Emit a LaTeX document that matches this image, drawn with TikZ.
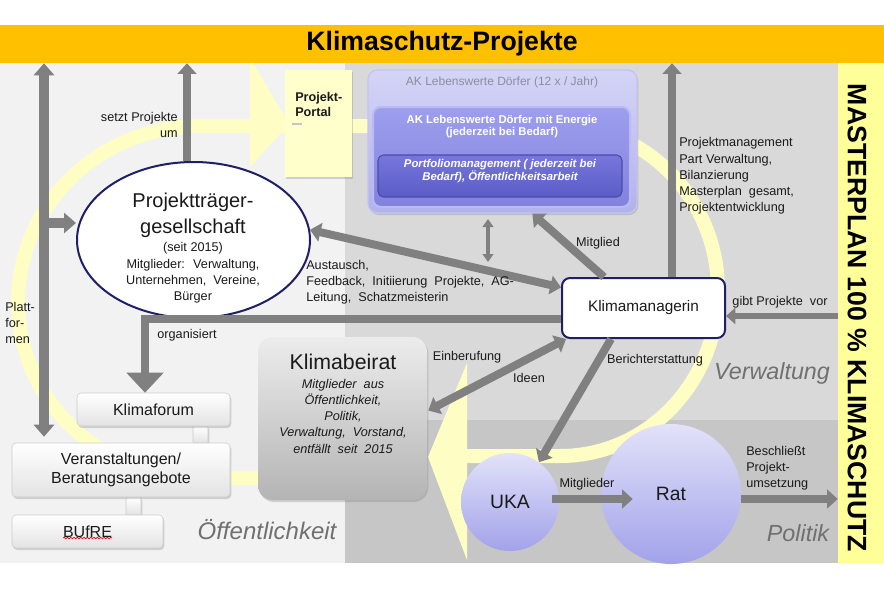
\documentclass[tikz,border=0pt]{standalone}
\usepackage{fontspec}
\setmainfont{Liberation Sans}
\usetikzlibrary{arrows.meta,shapes.geometric,shadows,calc,decorations.pathmorphing}
\definecolor{banner}{HTML}{FFC000}
\definecolor{bgl}{HTML}{F2F2F2}
\definecolor{bgm}{HTML}{D9D9D9}
\definecolor{bgd}{HTML}{C6C6C6}
\definecolor{stripc}{HTML}{FFFF99}
\definecolor{bandc}{HTML}{FEFEC4}
\definecolor{portalc}{HTML}{FFFFCC}
\definecolor{agray}{HTML}{808080}
\definecolor{navy}{HTML}{1F1F66}
\definecolor{txt}{HTML}{1A1A1A}
\definecolor{regc}{HTML}{707070}
\definecolor{akt}{HTML}{D4D4F6}
\definecolor{akb}{HTML}{B2B2EC}
\definecolor{akline}{HTML}{C4C4F2}
\definecolor{aktxt}{HTML}{8C8CA0}
\definecolor{midt}{HTML}{9E9EEE}
\definecolor{midb}{HTML}{8282DE}
\definecolor{midline}{HTML}{BABAF4}
\definecolor{int}{HTML}{7676DC}
\definecolor{inb}{HTML}{5C5CC8}
\definecolor{inline}{HTML}{4C4CA8}
\definecolor{kbt}{HTML}{ECECEC}
\definecolor{kbb}{HTML}{B4B4B4}
\definecolor{ukat}{HTML}{E2E2FA}
\definecolor{ukab}{HTML}{A2A2EA}
\begin{document}
\begin{tikzpicture}[x=0.75pt,y=-0.75pt,
  sh/.style={drop shadow={opacity=0.3,shadow xshift=1pt,shadow yshift=-1.5pt}},
  lbl/.style={font=\fontsize{9.5}{12.2}\selectfont, text=txt, inner sep=0},
  reglbl/.style={font=\fontsize{17.5}{20}\selectfont\itshape, text=regc, inner sep=0},
  wbox/.style={rounded corners=3pt, draw=gray!40, top color=white, bottom color=gray!22, sh, inner sep=0, text=txt, font=\fontsize{12}{14.25}\selectfont},
  garr/.style={draw=agray, line width=6pt, -{Triangle[width=14pt,length=8pt]}},
  gdarr/.style={draw=agray, line width=6pt, {Triangle[width=14pt,length=8pt]}-{Triangle[width=14pt,length=8pt]}},
  thindarr/.style={draw=agray, line width=2.5pt, {Triangle[width=8pt,length=6pt]}-{Triangle[width=8pt,length=6pt]}},
  gbig/.style={draw=agray, line width=6pt, -{Triangle[width=27pt,length=15pt]}}
]
\path[use as bounding box] (0,0) rectangle (884,590);
\fill[white] (0,0) rectangle (884,590);
\fill[bgl] (0,63) rectangle (345,563);
\fill[bgm] (345,63) rectangle (838,420);
\fill[bgd] (345,420) rectangle (838,563);

% pale circular arrows
\draw[bandc, line width=10.5pt] (300,478) -- (200,478) arc[start angle=90,end angle=270,x radius=182,y radius=176] -- (560,126) arc[start angle=270,end angle=450,x radius=158,y radius=165] -- (467,456);
\fill[bandc] (250,63) -- (253,63) -- (289,124) -- (250,167) -- cycle;
\fill[bandc] (467,363) -- (428,457) -- (467,560) -- cycle;

% banner and right strip
\node[fill=banner, minimum width=663pt, minimum height=28.5pt, inner sep=0, font=\fontsize{20}{24}\selectfont\bfseries] (banner) at (442,44) {Klimaschutz-Projekte};
\node[fill=stripc, minimum width=34.5pt, minimum height=375pt, inner sep=0] (strip) at (861,313) {};
\node[rotate=-90, font=\fontsize{20}{24}\selectfont\bfseries, inner sep=0] (striptxt) at (857,318) {MASTERPLAN 100 \% KLIMASCHUTZ};

% Projekt-Portal
\node[fill=portalc, minimum width=50.25pt, minimum height=80.25pt, inner sep=0, sh] (portal) at (318.5,123.5) {};
\node[anchor=north west, align=left, font=\fontsize{9.5}{11}\selectfont\bfseries, text=txt, inner sep=0] (portaltxt) at (295,92) {Projekt-\\Portal};
\draw[gray!45, line width=1pt] (292,124) -- (302,124);

% AK boxes
\node[rounded corners=7pt, top color=akt, bottom color=akb, draw=akline, line width=1pt, minimum width=201.75pt, minimum height=107.25pt, inner sep=0, sh] (ak) at (502.5,141.5) {};
\node[font=\fontsize{9}{11}\selectfont, text=aktxt, inner sep=0] (aktitle) at (502,82) {AK Lebenswerte Dörfer (12 x / Jahr)};
\node[rounded corners=6pt, top color=midt, bottom color=midb, draw=midline, line width=1.5pt, minimum width=192.75pt, minimum height=75pt, inner sep=0] (akmid) at (501.5,157) {};
\node[font=\fontsize{8.5}{9}\selectfont\bfseries, text=white, align=center, inner sep=0] (akmidtxt) at (502,127) {AK Lebenswerte Dörfer mit Energie\\(jederzeit bei Bedarf)};
\node[rounded corners=4pt, top color=int, bottom color=inb, draw=inline, line width=0.8pt, minimum width=183pt, minimum height=31.5pt, inner sep=0] (akin) at (500,176) {};
\node[font=\fontsize{8.5}{9}\selectfont\bfseries\itshape, text=white, align=center, inner sep=0] (akintxt) at (500,171) {Portfoliomanagement ( jederzeit bei\\Bedarf), Öffentlichkeitsarbeit};

% Projekttraegergesellschaft
\node[ellipse, draw=navy, line width=1.5pt, fill=white, minimum width=174.75pt, minimum height=117pt, inner sep=0] (ptg) at (193.5,240) {};
\node[font=\fontsize{15}{19.5}\selectfont, text=txt, align=center, inner sep=0] (ptgA) at (193,215) {Projektträger-\\gesellschaft};
\node[lbl, align=center] (ptgB) at (193,273) {(seit 2015)\\Mitglieder:~ Verwaltung,\\Unternehmen,~ Vereine,\\Bürger};

% Klimamanagerin
\node[draw=navy, line width=1.5pt, fill=white, rounded corners=6pt, minimum width=122.25pt, minimum height=45pt, inner sep=0, text=txt, font=\fontsize{11.5}{14}\selectfont] (km) at (643.5,308) {Klimamanagerin};

% Klimabeirat
\node[rounded corners=11pt, top color=kbt, bottom color=kbb, minimum width=126.75pt, minimum height=122.25pt, inner sep=0, sh] (kb) at (342.5,418.5) {};
\node[font=\fontsize{16}{19}\selectfont, text=txt, inner sep=0] (kbtitle) at (343,362) {Klimabeirat};
\node[font=\fontsize{9.5}{12.2}\selectfont\itshape, text=txt, align=center, inner sep=0] (kbtxt) at (343,416) {Mitglieder~ aus\\Öffentlichkeit,\\Politik,\\Verwaltung,~ Vorstand,\\entfällt~ seit~ 2015};

% left boxes
\node[wbox, rounded corners=1pt, minimum width=11.25pt, minimum height=12.75pt] (sq1) at (200.5,434.5) {};
\node[wbox, rounded corners=1pt, minimum width=11.25pt, minimum height=13.5pt] (sq2) at (133.5,506) {};
\node[wbox, minimum width=114.75pt, minimum height=24.75pt] (kf) at (153.5,409.5) {Klimaforum};
\node[wbox, align=center, minimum width=163.5pt, minimum height=40.5pt] (veran) at (121,470) {Veranstaltungen/\\Beratungsangebote};
\node[wbox, minimum width=113.25pt, minimum height=24.75pt] (bufre) at (87.5,531.5) {BUfRE};
\draw[red, line width=0.5pt, decorate, decoration={snake, amplitude=0.6pt, segment length=2.5pt}] (63,538) -- (112,538);

% UKA and Rat
\node[circle, top color=ukat, bottom color=ukab, minimum size=73.5pt, inner sep=0, text=txt, font=\fontsize{14.5}{17}\selectfont] (uka) at (510,502) {UKA};
\node[circle, top color=ukat, bottom color=ukab, minimum size=105pt, inner sep=0, text=txt, font=\fontsize{14.5}{17}\selectfont] (rat) at (671,494) {Rat};

% helper coordinates
\coordinate (xa) at (44,0);
\coordinate (yb) at (0,223);
\coordinate (xb) at (187,0);
\coordinate (xc) at (672,0);
\coordinate (yg) at (0,316);
\coordinate (thinend) at (488,262);
\coordinate (yo) at (0,319);
\coordinate (xo) at (145,0);
\coordinate (yr) at (0,499);

% arrows
\draw[draw=agray, line width=7pt, {Triangle[width=15pt,length=9pt]}-{Triangle[width=15pt,length=9pt]}] (xa |- banner.south) -- ($(xa |- veran.north)+(0,-6)$);
\draw[draw=agray, line width=7pt, -{Triangle[width=15pt,length=9pt]}] (xa |- yb) -- (ptg.west |- yb);
\draw[garr] (xb |- ptg.north) -- (xb |- banner.south);
\draw[garr] (xc |- km.north) -- (xc |- banner.south);
\draw[draw=agray, line width=5pt, -{Triangle[width=12pt,length=7pt]}] (strip.west |- yg) -- (km.east |- yg);
\draw[gdarr] (ptg.5) -- (km.166);
\draw[thindarr, shorten <=4pt] (thinend |- ak.south) -- (thinend);
\draw[garr] ($(km.north west)+(43,0)$) -- ($(ak.south west)+(165,0)$);
\draw[gbig] (km.west |- yo) -- (xo |- yo) -- (xo |- kf.north);
\draw[gdarr] ($(kb.east)+(1,-8)$) -- ($(km.south west)+(5,0)$);
\draw[garr] ($(km.south west)+(50,0)$) -- (uka.54);
\draw[garr] ($(uka.center)+(42,-3)$) -- ($(rat.west)+(32,5)$);
\draw[garr] (rat.east |- yr) -- (strip.west |- yr);

% labels
\node[lbl, align=right, anchor=east] (l1) at (178,125) {setzt Projekte\\um};
\node[lbl, align=left, anchor=west] (l2) at (5,323) {Platt-\\for-\\men};
\node[lbl] (l3) at (187,335) {organisiert};
\node[lbl, align=left, anchor=west] (l4) at (306,282) {Austausch,\\Feedback,~ Initiierung~ Projekte,~ AG-\\Leitung,~ Schatzmeisterin};
\node[lbl] (l5) at (598,243) {Mitglied};
\node[lbl, align=left, anchor=west] (l6) at (679,176) {Projektmanagement\\Part Verwaltung,\\Bilanzierung\\Masterplan~ gesamt,\\Projektentwicklung};
\node[lbl] (l7) at (780,302) {gibt Projekte~ vor};
\node[lbl] (l8) at (467,357) {Einberufung};
\node[lbl] (l9) at (529,378) {Ideen};
\node[lbl] (l10) at (655,360) {Berichterstattung};
\node[lbl] (l11) at (587,484) {Mitglieder};
\node[lbl, align=left, anchor=west] (l12) at (746,468) {Beschließt\\Projekt-\\umsetzung};
\node[reglbl] (r1) at (772,373) {Verwaltung};
\node[reglbl] (r2) at (798,533) {Politik};
\node[reglbl, font=\fontsize{18}{20}\selectfont\itshape] (r3) at (267,530) {Öffentlichkeit};
\end{tikzpicture}
\end{document}
